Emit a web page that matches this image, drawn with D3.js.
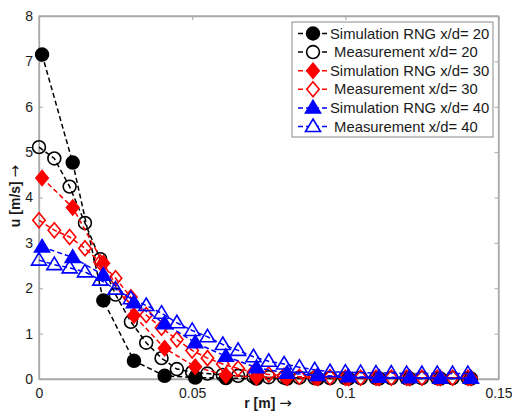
<!DOCTYPE html>
<html>
<head>
<meta charset="utf-8">
<script src="https://cdn.jsdelivr.net/npm/d3@7"></script>
<style>
  html, body { margin: 0; padding: 0; background: #fff; }
  svg { display: block; font-family: "Liberation Sans", Arial, sans-serif; }
</style>
</head>
<body>
<svg id="chart" width="512" height="414"></svg>
<script>
// ---- data ----
const rSim = [0.001, 0.011, 0.021, 0.031, 0.041, 0.051, 0.061, 0.071, 0.081, 0.091, 0.101, 0.111, 0.121, 0.131, 0.141];
const rMeas = [0, 0.005, 0.01, 0.015, 0.02, 0.025, 0.03, 0.035, 0.04, 0.045, 0.05, 0.055, 0.06, 0.065, 0.07,
               0.075, 0.08, 0.085, 0.09, 0.095, 0.1, 0.105, 0.11, 0.115, 0.12, 0.125, 0.13, 0.135, 0.14];

const simRNG20 = [7.15, 4.77, 1.73, 0.40, 0.07, 0.03, 0.02, 0.01, 0.01, 0.01, 0.01, 0.01, 0.01, 0.01, 0.01];
const meas20   = [5.11, 4.86, 4.24, 3.44, 2.64, 1.86, 1.26, 0.80, 0.46, 0.22, 0.15, 0.12, 0.09, 0.07, 0.05,
                  0.04, 0.03, 0.03, 0.02, 0.02, 0.02, 0.02, 0.02, 0.02, 0.02, 0.02, 0.02, 0.02, 0.02];
const simRNG30 = [4.43, 3.78, 2.55, 1.40, 0.68, 0.27, 0.08, 0.04, 0.03, 0.02, 0.02, 0.02, 0.02, 0.02, 0.02];
const meas30   = [3.50, 3.28, 3.13, 2.88, 2.57, 2.22, 1.80, 1.41, 1.13, 0.87, 0.63, 0.46, 0.33, 0.23, 0.15,
                  0.10, 0.07, 0.05, 0.04, 0.04, 0.03, 0.03, 0.03, 0.03, 0.03, 0.03, 0.03, 0.03, 0.03];
const simRNG40 = [2.91, 2.68, 2.29, 1.68, 1.22, 0.80, 0.50, 0.25, 0.13, 0.08, 0.05, 0.04, 0.03, 0.02, 0.02];
const meas40   = [2.62, 2.52, 2.45, 2.36, 2.18, 1.98, 1.77, 1.62, 1.45, 1.24, 1.07, 0.93, 0.76, 0.63, 0.49,
                  0.39, 0.33, 0.26, 0.20, 0.16, 0.15, 0.14, 0.13, 0.13, 0.12, 0.12, 0.12, 0.12, 0.12];

const seriesNames = ["Simulation RNG x/d= 20", " Measurement x/d= 20", "Simulation RNG x/d= 30",
                     " Measurement x/d= 30", "Simulation RNG x/d= 40", " Measurement x/d= 40"];
const xTicks = [0, 0.05, 0.1, 0.15];
const xTickLabels = ["0", "0.05", "0.1", "0.15"];
const yTicks = [0, 1, 2, 3, 4, 5, 6, 7, 8];
const xLabel = "r [m] ";
const yLabel = "u [m/s] ";
const arrow = "\u2192";

// ---- setup ----
const series = [
  { name: seriesNames[0], r: rSim,  v: simRNG20, color: "#000000", shape: "circle",   filled: true },
  { name: seriesNames[1], r: rMeas, v: meas20,   color: "#000000", shape: "circle",   filled: false },
  { name: seriesNames[2], r: rSim,  v: simRNG30, color: "#ff0000", shape: "diamond",  filled: true },
  { name: seriesNames[3], r: rMeas, v: meas30,   color: "#ff0000", shape: "diamond",  filled: false },
  { name: seriesNames[4], r: rSim,  v: simRNG40, color: "#0000ff", shape: "triangle", filled: true },
  { name: seriesNames[5], r: rMeas, v: meas40,   color: "#0000ff", shape: "triangle", filled: false }
];

const svg = d3.select("#chart");
const L = 39, R = 498.5, T = 16, B = 379;
const x = d3.scaleLinear().domain([0, 0.15]).range([L, R]);
const y = d3.scaleLinear().domain([0, 8]).range([B, T]);
const axisColor = "#a8a8a8";

// box
svg.append("rect").attr("x", L).attr("y", T).attr("width", R - L).attr("height", B - T)
  .attr("fill", "none").attr("stroke", axisColor).attr("stroke-width", 1.3);

// axes
const xAxis = svg.append("g").attr("transform", `translate(0,${B})`)
  .call(d3.axisBottom(x).tickValues(xTicks).tickFormat((d, i) => xTickLabels[i]).tickSizeInner(-4).tickSizeOuter(0).tickPadding(9));
const yAxis = svg.append("g").attr("transform", `translate(${L},0)`)
  .call(d3.axisLeft(y).tickValues(yTicks).tickFormat(d3.format("d")).tickSizeInner(-4).tickSizeOuter(0).tickPadding(6));
const xAxisTop = svg.append("g").attr("transform", `translate(0,${T})`)
  .call(d3.axisTop(x).tickValues(xTicks).tickFormat("").tickSizeInner(-4).tickSizeOuter(0));
const yAxisRight = svg.append("g").attr("transform", `translate(${R},0)`)
  .call(d3.axisRight(y).tickValues(yTicks).tickFormat("").tickSizeInner(-4).tickSizeOuter(0));
[xAxis, yAxis, xAxisTop, yAxisRight].forEach(g => {
  g.select(".domain").attr("stroke", axisColor).attr("stroke-width", 1.3);
  g.selectAll(".tick line").attr("stroke", axisColor).attr("stroke-width", 1);
  g.selectAll(".tick text").attr("font-size", 14).attr("fill", "#1a1a1a")
    .attr("font-family", "'Liberation Sans', Arial, sans-serif");
});

// axis labels
const xl = svg.append("text").attr("x", 268).attr("y", 408).attr("text-anchor", "middle")
  .attr("font-size", 14).attr("font-weight", "bold").attr("fill", "#1a1a1a")
  .attr("xml:space", "preserve").style("white-space", "pre");
xl.append("tspan").text(xLabel);
xl.append("tspan").attr("font-family", "'DejaVu Sans', sans-serif").attr("font-weight", "normal").attr("font-size", 15).text(arrow);
const yl = svg.append("text").attr("transform", "translate(20,196) rotate(-90)").attr("text-anchor", "middle")
  .attr("font-size", 14).attr("font-weight", "bold").attr("fill", "#1a1a1a")
  .attr("xml:space", "preserve").style("white-space", "pre");
yl.append("tspan").text(yLabel);
yl.append("tspan").attr("font-family", "'DejaVu Sans', sans-serif").attr("font-weight", "normal").attr("font-size", 15).text(arrow);

// marker symbols
function markerPath(shape) {
  if (shape === "circle") return d3.symbol(d3.symbolCircle, 130)();
  if (shape === "diamond") return "M0,-7.5L6.2,0L0,7.5L-6.2,0Z";
  return "M0,-7.5L7.5,5L-7.5,5Z";
}

const line = d3.line().x(d => x(d[0])).y(d => y(d[1]));
const plot = svg.append("g");

series.forEach(s => {
  const pts = s.r.map((r, i) => [r, s.v[i]]);
  plot.append("path").datum(pts).attr("d", line)
    .attr("fill", "none").attr("stroke", s.color).attr("stroke-width", 1.5)
    .attr("stroke-dasharray", "5,3");
  plot.append("g").selectAll("path").data(pts).join("path")
    .attr("transform", d => `translate(${x(d[0])},${y(d[1])})`)
    .attr("d", markerPath(s.shape))
    .attr("fill", s.filled ? s.color : "none")
    .attr("stroke", s.color).attr("stroke-width", 1.6);
});

// legend
const lg = svg.append("g");
lg.append("rect").attr("x", 292).attr("y", 22).attr("width", 201).attr("height", 115)
  .attr("fill", "#fff").attr("stroke", "#8a8a8a").attr("stroke-width", 1);
series.forEach((s, i) => {
  const yy = 33.5 + i * 18.6;
  lg.append("line").attr("x1", 298).attr("x2", 329).attr("y1", yy).attr("y2", yy)
    .attr("stroke", s.color).attr("stroke-width", 1.5).attr("stroke-dasharray", "5,3");
  lg.append("path").attr("transform", `translate(313,${yy})`).attr("d", markerPath(s.shape))
    .attr("fill", s.filled ? s.color : "#fff").attr("stroke", s.color).attr("stroke-width", 1.6);
  lg.append("text").attr("x", 330).attr("y", yy + 5).attr("font-size", 14.8).attr("fill", "#1a1a1a")
    .attr("xml:space", "preserve").style("white-space", "pre").text(s.name);
});
</script>
</body>
</html>
